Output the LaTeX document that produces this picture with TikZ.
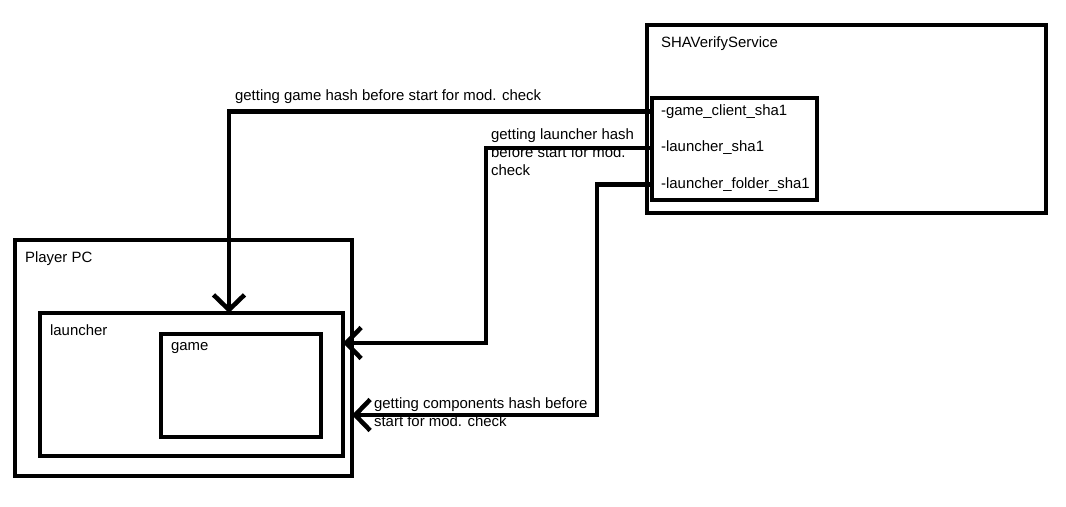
\documentclass[tikz,border=0pt]{standalone}
\usepackage{fontspec}
\setmainfont{Liberation Sans}
\usetikzlibrary{arrows.meta,positioning}

\begin{document}
\begin{tikzpicture}[
  every node/.style={font=\fontsize{8.5}{10.2}\selectfont},
  box/.style={draw, line width=2.6pt, anchor=north west, inner sep=0pt, outer sep=0pt},
  title/.style={anchor=north west, inner sep=1pt},
  field/.style={anchor=west, inner sep=1pt},
  flow/.style={-{Straight Barb[length=0.3cm, width=0.62cm]}, line width=2.6pt},
  note/.style={anchor=north west, align=left, inner sep=1pt}
]
\useasboundingbox (0,0) rectangle (21.32,-10.12);

% service side
\node[box, minimum width=7.98cm, minimum height=3.76cm] (sha) at (12.94,-0.50) {};
\node[title] at (13.18,-0.70) {SHAVerifyService};
\node[box, minimum width=3.30cm, minimum height=2.04cm] (fields) at (13.04,-1.96) {};
\node[field] (f1) at (13.18,-2.23) {-game\_client\_sha1};
\node[field] (f2) at (13.18,-2.96) {-launcher\_sha1};
\node[field] (f3) at (13.18,-3.69) {-launcher\_folder\_sha1};

% client side
\node[box, minimum width=6.74cm, minimum height=4.72cm] (pc) at (0.30,-4.80) {};
\node[title] at (0.46,-5.00) {Player PC};
\node[box, minimum width=6.06cm, minimum height=2.86cm] (launcher) at (0.80,-6.26) {};
\node[title] at (0.96,-6.46) {launcher};
\node[box, minimum width=3.20cm, minimum height=2.06cm] (game) at (3.22,-6.68) {};
\node[title] at (3.38,-6.80) {game};

% connectors
\coordinate (k1) at (4.58,0);
\coordinate (k2) at (9.72,-6.86);
\coordinate (k3) at (11.94,-8.30);

\draw[flow] (fields.west |- f1) -| (k1 |- launcher.north);
\draw[flow] (fields.west |- f2) -| (k2) -- (k2 -| launcher.east);
\draw[flow] (fields.west |- f3) -| (k3) -- (k3 -| pc.east);

\node[note] at (4.66,-1.76) {getting game hash before start for mod. check};
\node[note] at (9.78,-2.54) {getting launcher hash\\before start for mod.\\check};
\node[note] at (7.44,-7.92) {getting components hash before\\start for mod. check};
\end{tikzpicture}
\end{document}
